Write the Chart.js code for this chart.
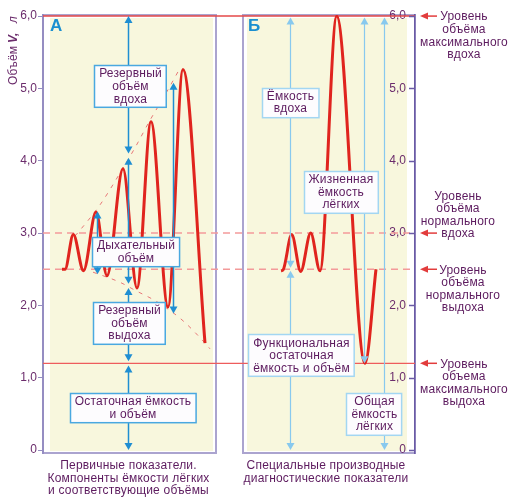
<!DOCTYPE html>
<html>
<head>
<meta charset="utf-8">
<script src="https://cdn.jsdelivr.net/npm/chart.js@4.4.1/dist/chart.umd.min.js"></script>
<style>
  html, body { margin: 0; padding: 0; background: #fff; }
  #wrap { width: 514px; height: 504px; }
</style>
</head>
<body>
<div id="wrap"><canvas id="spiro" width="514" height="504"></canvas></div>
<script>
// шкала объёма
const tickValues = [0, 1, 2, 3, 4, 5, 6];
const tickLabels = ['0', '1,0', '2,0', '3,0', '4,0', '5,0', '6,0'];

// уровни: макс. вдох, норм. вдох, норм. выдох, макс. выдох
const levelValues = [6.0, 3.0, 2.5, 1.2];

// спирограмма, панель А (t - условное время)
const spiroA_t = [1.9, 2.2, 3.03, 4.05, 5.3, 6.4, 8.0, 9.4, 10.8, 12.5, 14.0, 16.2];
const spiroA_v = [2.5, 2.5, 2.98, 2.48, 3.29, 2.41, 3.89, 2.24, 4.54, 1.98, 5.26, 1.48];

// спирограмма, панель Б
const spiroB_t = [23.8, 24.0, 24.87, 25.77, 26.77, 27.7, 29.37, 32.2, 33.3];
const spiroB_v = [2.48, 2.49, 2.98, 2.47, 3.0, 2.48, 6.0, 1.2, 2.5];

// пунктирные огибающие на панели А
const guideUp_t = [3.2, 3.7, 5.7, 7.7, 9.2, 10.7, 12.2, 13.5];
const guideUp_v = [2.96, 3.04, 3.39, 3.83, 4.18, 4.56, 4.91, 5.23];
const guideLow_t = [5.0, 7.7, 9.2, 11.4, 13.9, 16.2, 16.7];
const guideLow_v = [2.46, 2.32, 2.21, 2.05, 1.80, 1.48, 1.40];

// стрелки-отрезки объёмов (низ / верх)
const colA_t = [8.53, 8.53, 8.53, 8.53, 5.35, 13.0];
const colA_lo = [4.1, 2.3, 1.23, 0, 2.43, 1.89];
const colA_hi = [6.0, 4.04, 2.24, 1.17, 3.3, 5.08];
const colB_t = [24.7, 24.7, 32.1, 34.1];
const colB_lo = [2.52, 0, 1.2, 0];
const colB_hi = [5.98, 2.48, 5.98, 5.98];

// подписи в рамках и их места (в координатах графика)
const boxesA = [
  { lines: ['Резервный', 'объём', 'вдоха'], t: 8.7, v: 5.03 },
  { lines: ['Дыхательный', 'объём'], t: 9.25, v: 2.74 },
  { lines: ['Резервный', 'объём', 'выдоха'], t: 8.6, v: 1.76 },
  { lines: ['Остаточная ёмкость', 'и объём'], t: 8.95, v: 0.59 }
];
const boxesB = [
  { lines: ['Ёмкость', 'вдоха'], t: 24.7, v: 4.81 },
  { lines: ['Жизненная', 'ёмкость', 'лёгких'], t: 29.75, v: 3.57 },
  { lines: ['Функциональная', 'остаточная', 'ёмкость и объём'], t: 25.8, v: 1.31 },
  { lines: ['Общая', 'ёмкость', 'лёгких'], t: 33.1, v: 0.5 }
];

// подписи уровней справа
const levelNotes = [
  { lines: ['Уровень', 'объёма', 'максимального', 'вдоха'], arrowLine: 0, cx: 464 },
  { lines: ['Уровень', 'объёма', 'нормального', 'вдоха'], arrowLine: 3, cx: 458 },
  { lines: ['Уровень', 'объёма', 'нормального', 'выдоха'], arrowLine: 0, cx: 463 },
  { lines: ['Уровень', 'объема', 'максимального', 'выдоха'], arrowLine: 0, cx: 464 }
];

const captionA = ['Первичные показатели.', 'Компоненты ёмкости лёгких', 'и соответствующие объёмы'];
const captionB = ['Специальные производные', 'диагностические показатели'];

const panels = [
  { from: 0, to: 17.3, padL: 7, padR: 3, name: 'А' },
  { from: 20.0, to: 37.2, padL: 4, padR: 8, name: 'Б' }
];

const FAM = '"Liberation Sans", Arial, sans-serif';
const FONT = '12px ' + FAM;
const TEXT = '#5c1a5e';
const LH = 12.6;

const pts = (ts, vs) => ts.map((t, i) => ({ x: t, y: vs[i] }));

const levelStyle = [
  { color: '#e54848', width: 1.5, dash: [] },
  { color: '#f39a9a', width: 1.5, dash: [7, 5] },
  { color: '#f39a9a', width: 1.5, dash: [7, 5] },
  { color: '#ee5c5c', width: 1.2, dash: [] }
];

const datasets = [
  { data: pts(spiroA_t, spiroA_v), borderColor: '#e0241e', borderWidth: 3, cubicInterpolationMode: 'monotone' },
  { data: pts(spiroB_t, spiroB_v), borderColor: '#e0241e', borderWidth: 3, cubicInterpolationMode: 'monotone' },
  { data: pts(guideUp_t, guideUp_v), borderColor: '#e87878', borderWidth: 1, borderDash: [4, 6], cubicInterpolationMode: 'monotone' },
  { data: pts(guideLow_t, guideLow_v), borderColor: '#e87878', borderWidth: 1, borderDash: [4, 6], cubicInterpolationMode: 'monotone' }
];
levelValues.forEach((v, i) => {
  datasets.push({
    data: [{ x: 0, y: v }, { x: 37.2, y: v }],
    borderColor: levelStyle[i].color,
    borderWidth: levelStyle[i].width,
    borderDash: levelStyle[i].dash
  });
});

function setText(ctx, font, color, align) {
  ctx.font = font;
  ctx.fillStyle = color;
  ctx.textAlign = align || 'center';
  ctx.textBaseline = 'middle';
  ctx.letterSpacing = '0.2px';
}

function tri(ctx, x, yTip, dir) {
  // dir -1: вверх, 1: вниз
  ctx.beginPath();
  ctx.moveTo(x, yTip);
  ctx.lineTo(x - 4, yTip - dir * 7);
  ctx.lineTo(x + 4, yTip - dir * 7);
  ctx.closePath();
  ctx.fill();
}

function drawCols(chart, ts, los, his, color, lw) {
  const { ctx, scales: { x, y } } = chart;
  ctx.strokeStyle = color;
  ctx.fillStyle = color;
  ctx.lineWidth = lw;
  ts.forEach((t, i) => {
    const px = Math.round(x.getPixelForValue(t)) + 0.5;
    const top = y.getPixelForValue(his[i]);
    const bot = y.getPixelForValue(los[i]);
    ctx.beginPath();
    ctx.moveTo(px, top + 5);
    ctx.lineTo(px, bot - 5);
    ctx.stroke();
    tri(ctx, px, top, -1);
    tri(ctx, px, bot, 1);
  });
}

function drawBoxes(chart, boxes, border) {
  const { ctx, scales: { x, y } } = chart;
  setText(ctx, FONT, TEXT);
  boxes.forEach(b => {
    const cx = x.getPixelForValue(b.t);
    const cy = y.getPixelForValue(b.v);
    const w = Math.max(...b.lines.map(s => ctx.measureText(s).width)) + 9;
    const h = b.lines.length * LH + 4;
    const x0 = Math.round(cx - w / 2) + 0.5;
    const y0 = Math.round(cy - h / 2) + 0.5;
    ctx.fillStyle = '#fdfcfe';
    ctx.fillRect(x0, y0, w, h);
    ctx.strokeStyle = border;
    ctx.lineWidth = 1.5;
    ctx.strokeRect(x0, y0, w, h);
    ctx.fillStyle = TEXT;
    b.lines.forEach((s, i) => {
      ctx.fillText(s, cx + 0.5, cy - (b.lines.length - 1) * LH / 2 + i * LH + 0.5);
    });
  });
}

const backdrop = {
  id: 'backdrop',
  beforeDraw(chart) {
    const { ctx, chartArea: a, scales: { x } } = chart;
    ctx.save();
    panels.forEach(p => {
      const l = x.getPixelForValue(p.from);
      const r = x.getPixelForValue(p.to);
      ctx.fillStyle = '#f8f7dd';
      ctx.fillRect(l + p.padL, a.top + 3, r - l - p.padL - p.padR, a.bottom - a.top - 5);
      ctx.strokeStyle = '#aba4cf';
      ctx.lineWidth = 2;
      ctx.strokeRect(l, a.top, r - l, a.bottom - a.top);
    });
    ctx.restore();
  },
  afterDatasetsDraw(chart) {
    const { ctx, chartArea: a, scales: { x } } = chart;
    ctx.save();
    drawCols(chart, colA_t, colA_lo, colA_hi, '#1f8ed2', 1.5);
    drawCols(chart, colB_t, colB_lo, colB_hi, '#88c9ee', 1.2);
    drawBoxes(chart, boxesA, '#4aa8e0');
    drawBoxes(chart, boxesB, '#a3d6f2');
    setText(ctx, 'bold 17px ' + FAM, '#1a8fd0', 'left');
    panels.forEach(p => {
      ctx.fillText(p.name, x.getPixelForValue(p.from) + p.padL + (p.name === 'А' ? 0 : 1), a.top + 11);
    });
    ctx.restore();
  },
  afterDraw(chart) {
    const { ctx, chartArea: a, scales: { x, y2 } } = chart;
    ctx.save();
    // засечки правой оси
    ctx.strokeStyle = '#6a5aa5';
    ctx.lineWidth = 1.5;
    tickValues.forEach(v => {
      const py = Math.round(y2.getPixelForValue(v)) + 0.5;
      ctx.beginPath();
      ctx.moveTo(a.right - 6, py);
      ctx.lineTo(a.right, py);
      ctx.stroke();
    });
    // подписи уровней
    levelNotes.forEach((n, i) => {
      const py = y2.getPixelForValue(levelValues[i]);
      ctx.strokeStyle = '#e23c3c';
      ctx.fillStyle = '#e23c3c';
      ctx.lineWidth = 1.5;
      ctx.beginPath();
      ctx.moveTo(a.right + 12, py);
      ctx.lineTo(a.right + 22, py);
      ctx.stroke();
      ctx.beginPath();
      ctx.moveTo(a.right + 5, py);
      ctx.lineTo(a.right + 13, py - 3.5);
      ctx.lineTo(a.right + 13, py + 3.5);
      ctx.closePath();
      ctx.fill();
      setText(ctx, FONT, TEXT);
      n.lines.forEach((s, k) => {
        ctx.fillText(s, n.cx, py + (k - n.arrowLine) * LH + 1);
      });
    });
    // подписи под панелями
    setText(ctx, FONT, TEXT);
    [captionA, captionB].forEach((cap, i) => {
      const p = panels[i];
      const cx = (x.getPixelForValue(p.from) + x.getPixelForValue(p.to)) / 2 - (i ? 3 : 1);
      cap.forEach((s, k) => ctx.fillText(s, cx, a.bottom + 13 + k * 12.5));
    });
    // подпись оси
    ctx.translate(14, 85);
    ctx.rotate(-Math.PI / 2);
    setText(ctx, FONT, '#6b2c6c', 'left');
    ctx.fillText('Объём', 0, 0);
    ctx.font = 'bold italic 12px ' + FAM;
    ctx.fillText('V,', 42, 0);
    ctx.font = 'italic 12px ' + FAM;
    ctx.fillText('л', 62, 0);
    ctx.restore();
  }
};

const yCommon = {
  type: 'linear',
  min: -0.04,
  max: 6.015,
  afterBuildTicks: s => { s.ticks = tickValues.map(v => ({ value: v })); },
};

new Chart(document.getElementById('spiro'), {
  type: 'line',
  data: { datasets },
  options: {
    responsive: false,
    animation: false,
    layout: { padding: { top: 15, bottom: 51, left: 0, right: 0 } },
    elements: { point: { radius: 0 }, line: { tension: 0 } },
    plugins: { legend: { display: false }, tooltip: { enabled: false } },
    scales: {
      x: { type: 'linear', min: 0, max: 37.2, display: false },
      y: Object.assign({}, yCommon, {
        position: 'left',
        afterFit: s => { s.width = 43; },
        border: { display: true, color: '#958dc2', width: 2 },
        grid: { drawOnChartArea: false, drawTicks: true, tickLength: 5, color: '#958dc2' },
        ticks: {
          padding: 1,
          color: '#6b2c6c',
          font: { family: FAM, size: 12 },
          callback: v => tickLabels[tickValues.indexOf(v)] || ''
        }
      }),
      y2: Object.assign({}, yCommon, {
        position: 'right',
        afterFit: s => { s.width = 99; },
        border: { display: true, color: '#6a5aa5', width: 1.5 },
        grid: { display: false, drawTicks: false },
        ticks: {
          mirror: true,
          padding: -9,
          color: '#6b2c6c',
          font: { family: FAM, size: 12 },
          callback: v => tickLabels[tickValues.indexOf(v)] || ''
        }
      })
    }
  },
  plugins: [backdrop]
});
</script>
</body>
</html>
